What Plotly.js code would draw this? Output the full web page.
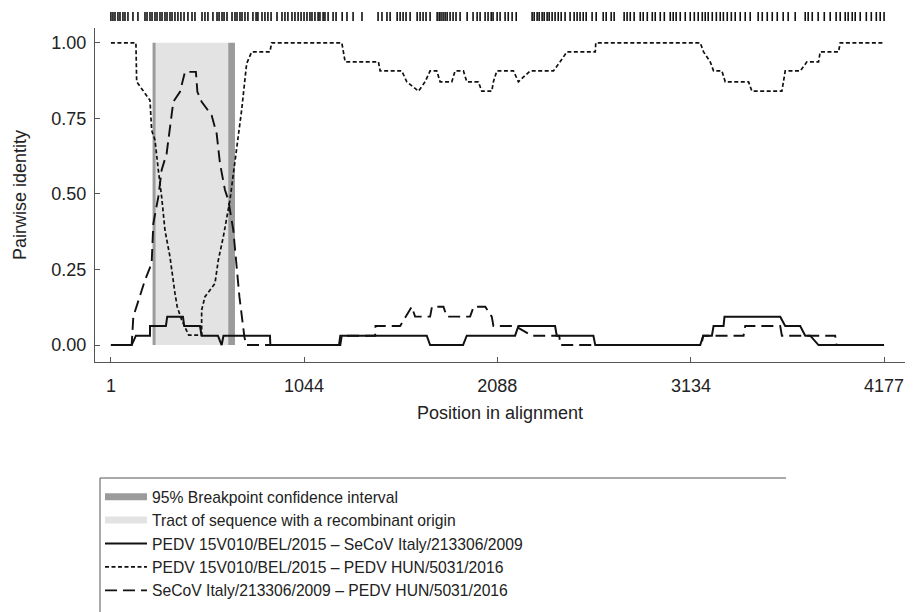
<!DOCTYPE html>
<html>
<head>
<meta charset="utf-8">
<script src="https://cdn.plot.ly/plotly-3.0.1.min.js"></script>
<style>html,body{margin:0;padding:0;background:#fff;}#chart{width:924px;height:612px;}</style>
</head>
<body>
<div id="chart"></div>
<script>
// Polymorphic sites (top barcode), positions in alignment
const sites = [1,12,23,39,50,66,77,93,120,147,185,196,212,223,239,250,266,277,293,304,320,331,347,363,379,396,417,439,455,493,509,525,552,574,585,601,612,628,655,671,682,698,709,725,741,768,785,795,817,833,849,866,898,925,941,957,979,995,1012,1028,1044,1060,1076,1087,1103,1120,1130,1147,1157,1174,1201,1217,1250,1276,1309,1357,1444,1465,1492,1509,1547,1563,1579,1595,1617,1655,1671,1687,1703,1725,1763,1774,1784,1795,1806,1817,1833,1849,1865,1887,1925,1957,1979,1995,2022,2038,2055,2065,2087,2103,2130,2147,2168,2190,2276,2287,2303,2314,2330,2341,2357,2368,2384,2400,2417,2433,2454,2481,2503,2519,2535,2552,2568,2600,2622,2660,2676,2703,2719,2773,2789,2806,2827,2860,2876,2898,2925,2941,2968,2990,3022,3038,3054,3076,3103,3130,3152,3173,3195,3211,3227,3249,3271,3292,3309,3330,3352,3373,3400,3427,3454,3497,3519,3546,3573,3600,3632,3659,3697,3751,3767,3789,3821,3854,3886,3918,3940,3967,3983,4005,4021,4048,4081,4108,4135,4156,4177];

// PEDV 15V010/BEL/2015 – SeCoV Italy/213306/2009 (solid)
const solidPos = [1,113,136,212,212,298,305,390,397,482,491,579,599,609,860,862,1233,1240,1707,1725,1903,1923,2184,2202,2400,2409,2607,2617,3184,3200,3247,3256,3310,3315,3616,3643,3724,3751,3778,3823,4177];
const solidId  = [0,0,0.031,0.031,0.063,0.063,0.094,0.094,0.063,0.063,0.031,0.031,0,0.031,0.031,0,0,0.031,0.031,0,0,0.031,0.031,0.063,0.063,0.031,0.031,0,0,0.031,0.031,0.063,0.063,0.094,0.094,0.063,0.063,0.031,0.031,0,0];

// PEDV 15V010/BEL/2015 – PEDV HUN/5031/2016 (fine dashes)
const dotPos = [1,136,140,212,221,239,257,275,293,320,347,359,383,421,491,491,509,563,581,608,644,680,707,734,761,860,869,1248,1266,1446,1455,1572,1599,1662,1698,1725,1761,1779,1842,1860,1905,1923,1986,2004,2058,2067,2085,2175,2202,2265,2391,2427,2464,2617,2620,3184,3202,3238,3256,3301,3319,3445,3463,3625,3643,3724,3760,3823,3832,3931,3940,4177];
const dotId  = [1,1,0.871,0.81,0.711,0.678,0.579,0.49,0.38,0.292,0.171,0.127,0.083,0.033,0.033,0.116,0.16,0.204,0.281,0.358,0.48,0.645,0.777,0.931,0.97,0.97,1,1,0.937,0.937,0.907,0.907,0.871,0.84,0.871,0.907,0.907,0.871,0.871,0.907,0.907,0.871,0.871,0.84,0.84,0.871,0.907,0.907,0.871,0.907,0.907,0.937,0.97,0.97,1,1,0.97,0.937,0.907,0.907,0.871,0.871,0.84,0.84,0.907,0.907,0.937,0.937,0.97,0.97,1,1];

// SeCoV Italy/213306/2009 – PEDV HUN/5031/2016 (long dashes)
const dashPos = [1,113,122,185,221,230,257,275,302,320,338,374,401,460,468,491,545,572,590,617,635,662,680,695,722,731,1240,1248,1428,1430,1563,1626,1644,1725,1735,1797,1815,1941,1960,2023,2058,2067,2184,2274,2422,2430,3190,3200,3418,3427,3616,3625,3913,3920,4177];
const dashId  = [0,0,0.094,0.215,0.27,0.402,0.49,0.579,0.634,0.711,0.805,0.838,0.904,0.904,0.838,0.805,0.76,0.70,0.601,0.513,0.48,0.38,0.27,0.16,0.027,0,0,0.031,0.031,0.063,0.063,0.127,0.094,0.094,0.127,0.127,0.094,0.094,0.127,0.127,0.094,0.063,0.063,0.031,0.031,0,0,0.031,0.031,0.063,0.063,0.031,0.031,0,0];

// Breakpoint intervals and recombinant tract (alignment positions)
const tract = [233, 640];
const ciLeft = [226, 242];
const ciRight = [635, 671];

const xTicks = [1, 1044, 2088, 3134, 4177];
const yTicks = [0, 0.25, 0.5, 0.75, 1];

const legendNames = [
  '95% Breakpoint confidence interval',
  'Tract of sequence with a recombinant origin',
  'PEDV 15V010/BEL/2015 – SeCoV Italy/213306/2009',
  'PEDV 15V010/BEL/2015 – PEDV HUN/5031/2016',
  'SeCoV Italy/213306/2009 – PEDV HUN/5031/2016'
];

const FONT = 'Liberation Sans, Arial, sans-serif';
const CI_COLOR = '#9b9b9b';
const TRACT_COLOR = '#e3e3e3';

const bx = [], by = [];
sites.forEach(p => { bx.push(p, p, null); by.push(0, 1, null); });

const traces = [
  {x: bx, y: by, xaxis: 'x', yaxis: 'y2', mode: 'lines', line: {color: '#111', width: 1.6}, showlegend: false, hoverinfo: 'skip'},
  {x: [null], y: [null], mode: 'lines', name: legendNames[0], line: {color: CI_COLOR, width: 7}},
  {x: [null], y: [null], mode: 'lines', name: legendNames[1], line: {color: TRACT_COLOR, width: 7}},
  {x: solidPos, y: solidId, mode: 'lines', name: legendNames[2], line: {color: '#111', width: 2}},
  {x: dotPos, y: dotId, mode: 'lines', name: legendNames[3], line: {color: '#111', width: 1.7, dash: '4px,2.5px'}},
  {x: dashPos, y: dashId, mode: 'lines', name: legendNames[4], line: {color: '#111', width: 1.9, dash: '12px,6px'}}
];

const H = 357; // paper height in px (from top margin to x axis)
const layout = {
  width: 924, height: 612,
  margin: {l: 95, r: 19, t: 5, b: 250, autoexpand: false},
  paper_bgcolor: '#fff', plot_bgcolor: '#fff',
  font: {family: FONT, size: 18, color: '#222'},
  showlegend: true,
  xaxis: {
    range: [-85, 4290], showgrid: false, zeroline: false,
    showline: true, linecolor: '#555', linewidth: 1,
    ticks: 'inside', ticklen: 5, tickcolor: '#555', tickwidth: 1,
    tickvals: xTicks, ticktext: xTicks.map(String),
    ticklabelstandoff: 7,
    tickfont: {family: FONT, size: 18, color: '#222'},
    title: {text: 'Position in alignment', font: {family: FONT, size: 18, color: '#222'}, standoff: 11}
  },
  yaxis: {
    domain: [0, 334 / H], range: [-0.056, 1.049],
    showgrid: false, zeroline: false,
    showline: true, linecolor: '#555', linewidth: 1,
    ticks: 'inside', ticklen: 5, tickcolor: '#555', tickwidth: 1,
    tickvals: yTicks, tickformat: '.2f',
    ticklabelstandoff: 4,
    tickfont: {family: FONT, size: 18, color: '#222'},
    title: {text: 'Pairwise identity', font: {family: FONT, size: 18, color: '#222'}, standoff: 20}
  },
  yaxis2: {domain: [(362 - 21) / H, (362 - 12) / H], range: [0, 1], visible: false, anchor: 'x'},
  legend: {
    x: 5 / 810, xanchor: 'left', y: (362 - 480) / H, yanchor: 'top',
    bgcolor: 'rgba(0,0,0,0)', borderwidth: 0, tracegroupgap: 0, itemwidth: 42,
    font: {family: FONT, size: 15.7, color: '#222'}
  },
  shapes: [
    {type: 'rect', xref: 'x', yref: 'y', x0: tract[0], x1: tract[1], y0: 0, y1: 1, fillcolor: TRACT_COLOR, line: {width: 0}, layer: 'below'},
    {type: 'rect', xref: 'x', yref: 'y', x0: ciLeft[0], x1: ciLeft[1], y0: 0, y1: 1, fillcolor: CI_COLOR, line: {width: 0}, layer: 'below'},
    {type: 'rect', xref: 'x', yref: 'y', x0: ciRight[0], x1: ciRight[1], y0: 0, y1: 1, fillcolor: CI_COLOR, line: {width: 0}, layer: 'below'},
    {type: 'line', xref: 'paper', yref: 'paper', x0: 5 / 810, x1: 691 / 810, y0: (362 - 478) / H, y1: (362 - 478) / H, line: {color: '#555', width: 1}},
    {type: 'line', xref: 'paper', yref: 'paper', x0: 5 / 810, x1: 5 / 810, y0: (362 - 478) / H, y1: (362 - 620) / H, line: {color: '#555', width: 1}}
  ]
};

Plotly.newPlot('chart', traces, layout, {staticPlot: true, displayModeBar: false});
</script>
</body>
</html>
